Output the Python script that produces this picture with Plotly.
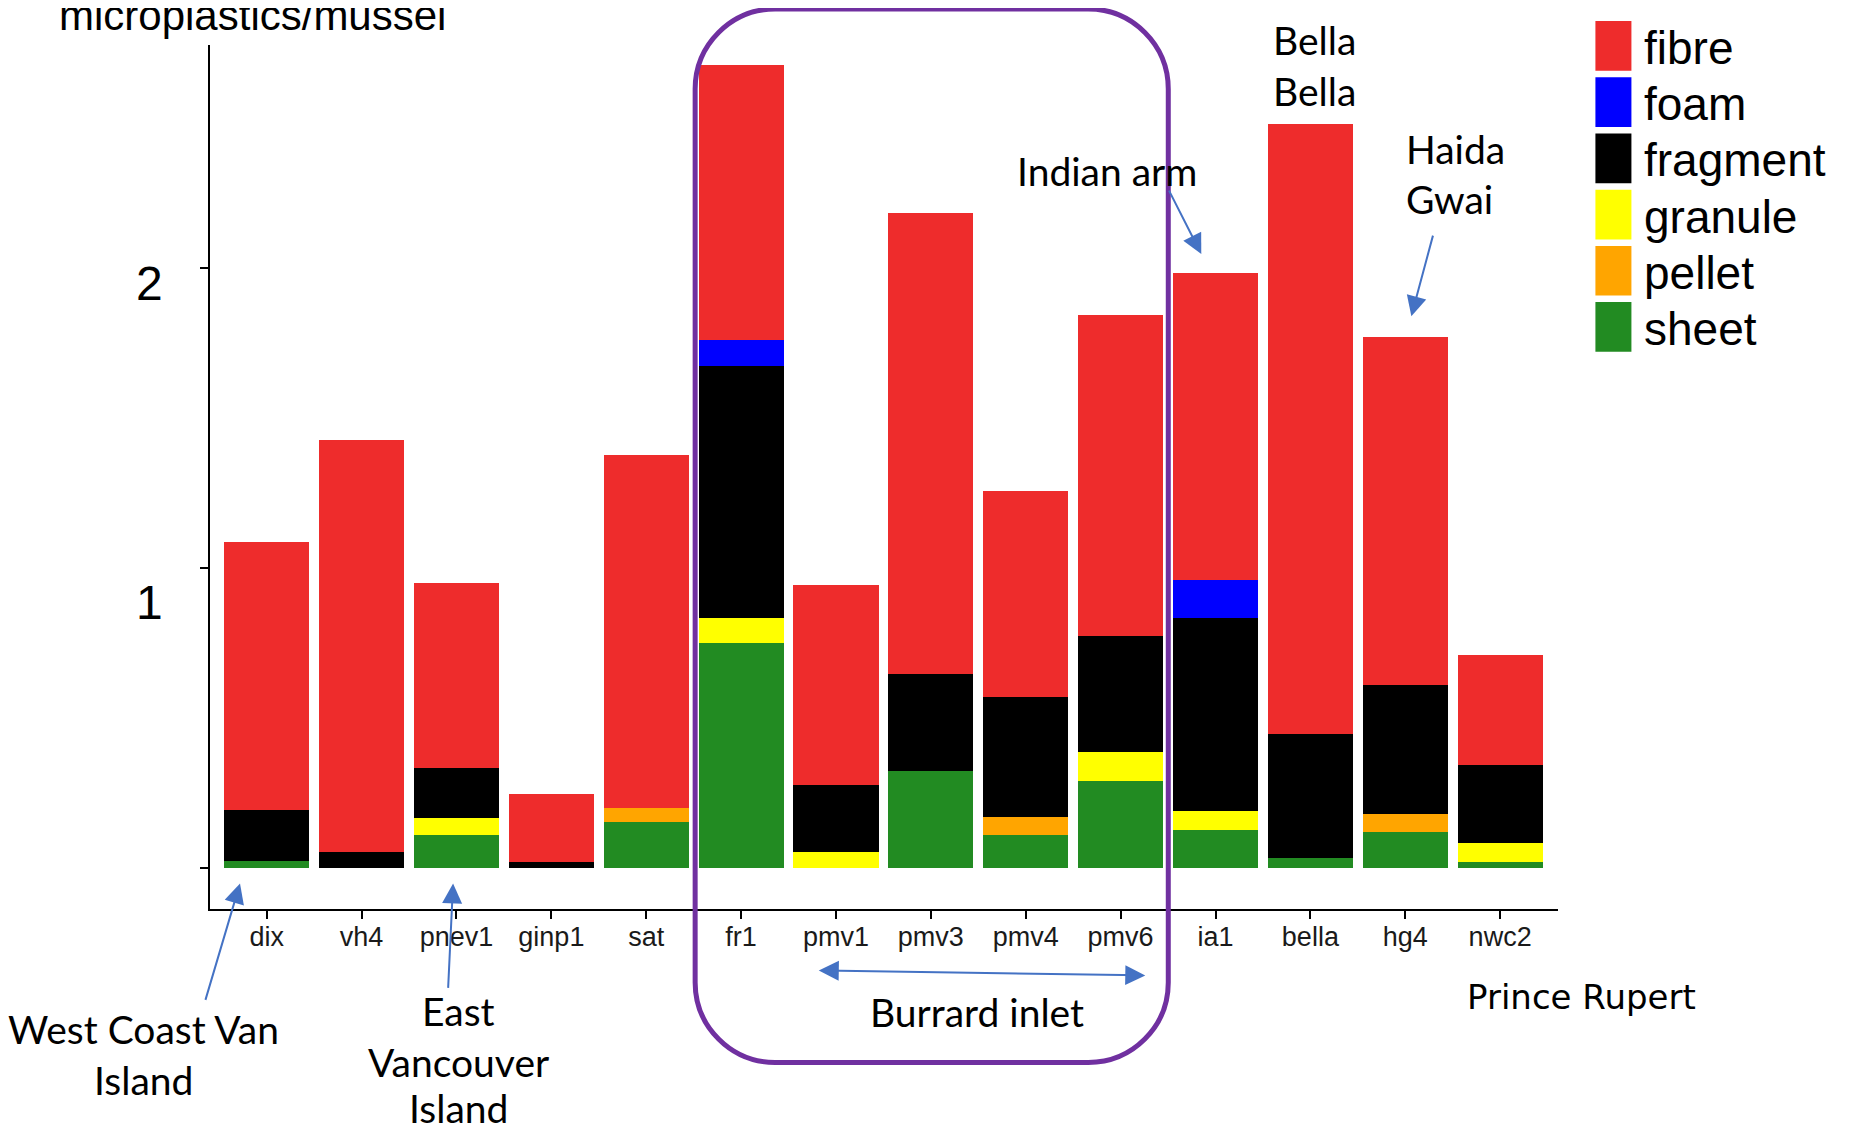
import plotly.graph_objects as go

# ---------------- data ----------------
sites = ["dix", "vh4", "pnev1", "ginp1", "sat", "fr1", "pmv1", "pmv3", "pmv4",
         "pmv6", "ia1", "bella", "hg4", "nwc2"]
sheet    = [0.025, 0.0,   0.110, 0.0,   0.153, 0.751, 0.0,   0.323, 0.110, 0.290, 0.127, 0.033, 0.120, 0.021]
pellet   = [0.0,   0.0,   0.0,   0.0,   0.048, 0.0,   0.0,   0.0,   0.060, 0.0,   0.0,   0.0,   0.061, 0.0]
granule  = [0.0,   0.0,   0.056, 0.0,   0.0,   0.084, 0.055, 0.0,   0.0,   0.098, 0.064, 0.0,   0.0,   0.063]
fragment = [0.168, 0.055, 0.167, 0.021, 0.0,   0.839, 0.222, 0.324, 0.400, 0.385, 0.642, 0.413, 0.430, 0.259]
foam     = [0.0,   0.0,   0.0,   0.0,   0.0,   0.086, 0.0,   0.0,   0.0,   0.0,   0.127, 0.0,   0.0,   0.0]
fibre    = [0.896, 1.372, 0.617, 0.226, 1.178, 0.917, 0.666, 1.539, 0.686, 1.071, 1.025, 2.034, 1.161, 0.367]

types = ["fibre", "foam", "fragment", "granule", "pellet", "sheet"]
colors = {"fibre": "#EE2C2C", "foam": "#0000FF", "fragment": "#000000",
          "granule": "#FFFF00", "pellet": "#FFA500", "sheet": "#228B22"}
ytick_vals = [0, 1, 2]
ytick_text = ["0", "1", "2"]
ytick_label_pos = [-0.181, 0.887, 1.951]

# ---------------- geometry (page pixel coords) ----------------
OFF = 8                      # default body margin of the html page
FW, FH = 1850 - OFF, 1130 - OFF
PL, PT, PR, PB = 210, 45, 1557.6, 908.6
PW, PH = PR - PL, PB - PT


def px(x):
    return (x - PL) / PW


def py(y):
    return 1 - (y - PT) / PH


fig = go.Figure()
stack = [("sheet", sheet), ("pellet", pellet), ("granule", granule),
         ("fragment", fragment), ("foam", foam), ("fibre", fibre)]
for name, vals in stack:
    fig.add_trace(go.Bar(x=sites, y=vals, name=name,
                         marker=dict(color=colors[name], line=dict(width=0)),
                         showlegend=False))

fig.update_layout(
    width=FW, height=FH,
    margin=dict(l=PL - OFF, r=FW - (PR - OFF), t=PT - OFF, b=FH - (PB - OFF), pad=0),
    barmode="stack", bargap=0.104,
    plot_bgcolor="white", paper_bgcolor="white",
    font=dict(family="Liberation Sans, Arial, sans-serif", color="black"),
)
fig.update_xaxes(range=[-0.598, 13.61], showline=True, linecolor="black", linewidth=2,
                 ticks="outside", ticklen=8, tickwidth=2, tickcolor="black",
                 ticklabelstandoff=-5,
                 tickfont=dict(size=27, color="#1a1a1a", family="Liberation Sans, Arial"),
                 showgrid=False, zeroline=False)
fig.update_yaxes(range=[-0.1365, 2.745], showline=True, linecolor="black", linewidth=2,
                 ticks="outside", ticklen=8, tickwidth=2, tickcolor="black",
                 tickvals=ytick_vals, showticklabels=False,
                 showgrid=False, zeroline=False)

ann = []
# y tick labels (offset like the original)
for v, t in zip(ytick_label_pos, ytick_text):
    ann.append(dict(x=px(150), y=v, xref="paper", yref="y", text=t, showarrow=False,
                    xanchor="center", yanchor="middle",
                    font=dict(size=48, family="Liberation Sans, Arial", color="black")))
# y axis title
ann.append(dict(x=px(252), y=py(16), xref="paper", yref="paper", text="microplastics/mussel",
                showarrow=False, xanchor="center", yanchor="middle",
                font=dict(size=42, family="Liberation Sans, Arial", color="black")))

CAL = "Lato, Carlito, Calibri, sans-serif"
fs = 39


def text(x, y, s, anchor="center", size=fs, family=CAL):
    ann.append(dict(x=px(x), y=py(y), xref="paper", yref="paper", text=s, showarrow=False,
                    xanchor=anchor, yanchor="middle", align=anchor if anchor != "center" else "center",
                    font=dict(size=size, family=family, color="black")))


text(144, 1029, "West Coast Van")
text(144, 1080, "Island")
text(458, 1011, "East")
text(458, 1062, "Vancouver")
text(458, 1108, "Island")
text(977, 1012, "Burrard inlet")
text(1107, 171, "Indian arm")
text(1271, 40, "Bella", anchor="left")
text(1271, 91, "Bella", anchor="left")
text(1404, 149, "Haida", anchor="left")
text(1404, 199, "Gwai", anchor="left")
text(1581, 997, "Prince Rupert", size=34, family="DejaVu Sans, Verdana, sans-serif")

ARROW = "#4472C4"


def arrow(tx, ty, hx, hy, both=False):
    ann.append(dict(x=px(hx), y=py(hy), xref="paper", yref="paper", text="",
                    showarrow=True, ax=tx - hx, ay=ty - hy, axref="pixel", ayref="pixel",
                    arrowhead=2, arrowsize=2, arrowwidth=2, arrowcolor=ARROW,
                    startarrowhead=2, startarrowsize=2,
                    arrowside="end+start" if both else "end"))


arrow(205, 1001, 240, 883)
arrow(448, 989, 453, 883)
arrow(1168, 189, 1201, 254)
arrow(1433, 234, 1411, 316)
arrow(817, 970, 1145, 975, both=True)

# legend (drawn)
shapes = []
for i, t in enumerate(types):
    top = 21 + i * 56.2
    shapes.append(dict(type="rect", xref="paper", yref="paper",
                       x0=px(1595), x1=px(1631), y0=py(top + 49.7), y1=py(top),
                       fillcolor=colors[t], line=dict(width=0)))
    ann.append(dict(x=px(1642), y=py(top + 27), xref="paper", yref="paper", text=t,
                    showarrow=False, xanchor="left", yanchor="middle",
                    font=dict(size=46, family="Liberation Sans, Arial", color="black")))

# purple rounded box
x0, x1, y0, y1, r = 695, 1168, 9, 1062, 80
k = 0.5523 * r


def P(x, y):
    return f"{px(x):.5f},{py(y):.5f}"


path = (f"M{P(x0 + r, y0)} L{P(x1 - r, y0)} "
        f"C{P(x1 - r + k, y0)} {P(x1, y0 + r - k)} {P(x1, y0 + r)} "
        f"L{P(x1, y1 - r)} "
        f"C{P(x1, y1 - r + k)} {P(x1 - r + k, y1)} {P(x1 - r, y1)} "
        f"L{P(x0 + r, y1)} "
        f"C{P(x0 + r - k, y1)} {P(x0, y1 - r + k)} {P(x0, y1 - r)} "
        f"L{P(x0, y0 + r)} "
        f"C{P(x0, y0 + r - k)} {P(x0 + r - k, y0)} {P(x0 + r, y0)} Z")
shapes.append(dict(type="path", xref="paper", yref="paper", path=path,
                   line=dict(color="#7030A0", width=5), fillcolor="rgba(0,0,0,0)"))

fig.update_layout(annotations=ann, shapes=shapes)
fig.write_html("out.html")
